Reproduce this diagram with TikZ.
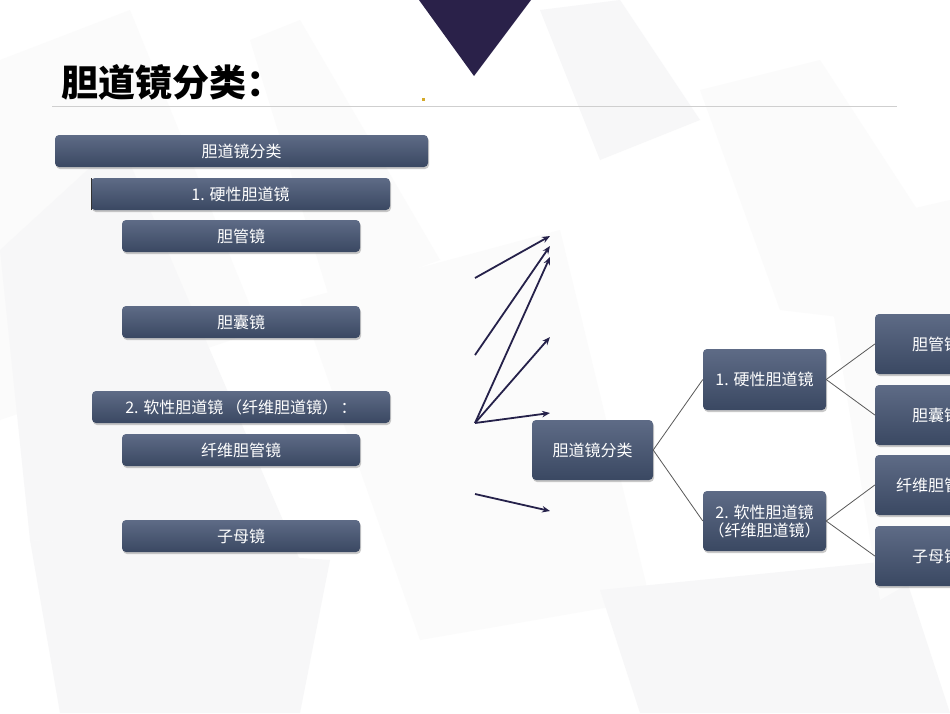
\documentclass[tikz,border=0pt]{standalone}
\usepackage{fontspec}
\setmainfont{Noto Sans CJK SC}
\usetikzlibrary{shadows,arrows.meta}
\definecolor{boxtop}{HTML}{5E6B86}
\definecolor{boxbot}{HTML}{3A4862}
\definecolor{navy}{HTML}{2A2149}
\definecolor{arrowc}{HTML}{25214A}
\definecolor{bgA}{HTML}{F7F7F8}
\definecolor{bgB}{HTML}{FBFBFB}
\definecolor{rulec}{HTML}{CFCFCF}
\definecolor{dotc}{HTML}{D4AA2A}
\tikzset{
  box/.style={rounded corners=4pt, top color=boxtop, bottom color=boxbot, draw=none,
    text=white, font=\fontsize{16}{18}\selectfont, inner sep=0pt, align=center,
    drop shadow={shadow xshift=1pt, shadow yshift=-2pt, opacity=0.35, fill=black!60}},
  arr/.style={draw=arrowc, line width=1.8pt, -{Stealth[length=8pt,width=6.5pt]}},
  link/.style={draw=black!65, line width=0.8pt},
  bgshape/.style={fill=bgA, draw=none},
  bgshape2/.style={fill=bgB, draw=none},
}
\begin{document}
\begin{tikzpicture}[x=1pt,y=-1pt]
\useasboundingbox (0,0) rectangle (950,713);
\clip (0,0) rectangle (950,713);
\fill[white] (0,0) rectangle (950,713);
% faint background polygons
\fill[bgshape2] (0,60) -- (130,10) -- (260,330) -- (0,420) -- cycle;
\fill[bgshape] (0,250) -- (120,140) -- (300,560) -- (30,540) -- cycle;
\fill[bgshape2] (250,40) -- (300,20) -- (440,260) -- (330,300) -- cycle;
\fill[bgshape] (30,540) -- (330,560) -- (300,713) -- (60,713) -- cycle;
\fill[bgshape2] (300,300) -- (560,230) -- (650,600) -- (420,640) -- cycle;
\fill[bgshape] (600,590) -- (900,560) -- (950,713) -- (640,713) -- cycle;
\fill[bgshape2] (700,90) -- (820,60) -- (950,260) -- (950,330) -- (780,310) -- cycle;
\fill[bgshape] (540,10) -- (620,0) -- (700,120) -- (600,160) -- cycle;
\fill[bgshape2] (820,230) -- (950,200) -- (950,560) -- (880,600) -- cycle;
% top triangle
\fill[navy] (419,0) -- (531,0) -- (474,76) -- cycle;
% title
\node[anchor=west, inner sep=0pt, font=\fontsize{37}{40}\selectfont\bfseries] (title) at (61,82) {胆道镜分类：};
\fill[dotc] (421.5,97.5) rectangle (424.5,100.5);
\draw[rulec, line width=1pt] (52,106) -- (897,106);
% left list
\node[box, minimum width=373pt, minimum height=32pt] (A) at (241.5,151) {胆道镜分类};
\node[box, minimum width=299pt, minimum height=32pt] (B) at (240.5,194) {1. 硬性胆道镜};
\draw[black!80, line width=1.2pt] (B.south west) ++(0.6,0) -- ++(0,-32);
\node[box, minimum width=238pt, minimum height=32pt] (C) at (241,236) {胆管镜};
\node[box, minimum width=238pt, minimum height=32pt] (D) at (241,322) {胆囊镜};
\node[box, minimum width=298pt, minimum height=32pt] (E) at (241,407) {2. 软性胆道镜\,（纤维胆道镜）\,：};
\node[box, minimum width=238pt, minimum height=32pt] (F) at (241,450) {纤维胆管镜};
\node[box, minimum width=238pt, minimum height=32pt] (G) at (241,536) {子母镜};
% arrows
\coordinate (s1) at (475,278); \coordinate (t1) at (550,236);
\coordinate (s2) at (475,355); \coordinate (t2) at (550,246);
\coordinate (s3) at (475,423); \coordinate (t3) at (550,257);
\coordinate (t4) at (550,337);
\coordinate (t5) at (550,413);
\coordinate (s6) at (475,494); \coordinate (t6) at (550,511);
\draw[arr] (s1) -- (t1);
\draw[arr] (s2) -- (t2);
\draw[arr] (s3) -- (t3);
\draw[arr] (s3) -- (t4);
\draw[arr] (s3) -- (t5);
\draw[arr] (s6) -- (t6);
% right tree
\node[box, minimum width=121pt, minimum height=60pt] (R0) at (592.5,450) {胆道镜分类};
\node[box, minimum width=123pt, minimum height=61pt] (R1) at (764.5,379.5) {1. 硬性胆道镜};
\node[box, minimum width=123pt, minimum height=60pt] (R2) at (764.5,521) {2. 软性胆道镜\\（纤维胆道镜）};
\node[box, minimum width=122pt, minimum height=60pt] (R11) at (936,344) {胆管镜};
\node[box, minimum width=122pt, minimum height=60pt] (R12) at (936,415) {胆囊镜};
\node[box, minimum width=122pt, minimum height=60pt] (R21) at (936,485) {纤维胆管镜};
\node[box, minimum width=122pt, minimum height=60pt] (R22) at (936,556) {子母镜};
\draw[link] (R0.east) -- (R1.west);
\draw[link] (R0.east) -- (R2.west);
\draw[link] (R1.east) -- (R11.west);
\draw[link] (R1.east) -- (R12.west);
\draw[link] (R2.east) -- (R21.west);
\draw[link] (R2.east) -- (R22.west);
\end{tikzpicture}
\end{document}
